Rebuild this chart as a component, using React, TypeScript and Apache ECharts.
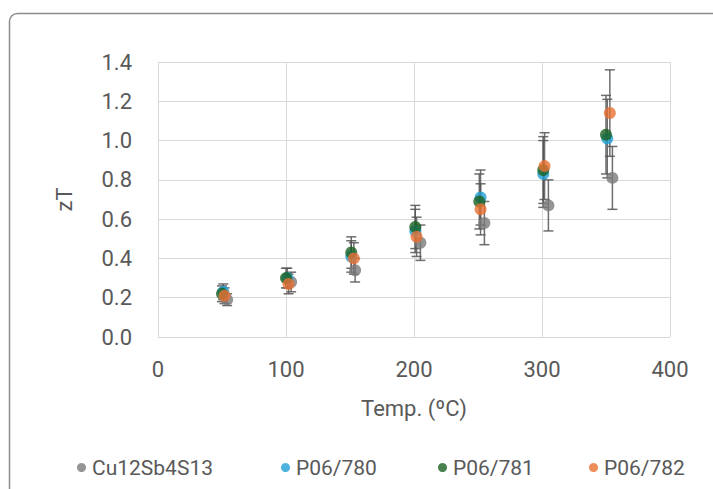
import React, { useEffect, useRef } from "react";
import * as echarts from "echarts";

const seriesNames = ["Cu12Sb4S13", "P06/780", "P06/781", "P06/782"];
const seriesColors = ["#7a7a7a", "#1ea0d6", "#1a6220", "#e97132"];

const grayX = [54, 104, 154, 205, 255, 305, 355];
const grayY = [0.19, 0.28, 0.34, 0.48, 0.58, 0.67, 0.81];
const grayErr = [0.03, 0.05, 0.06, 0.09, 0.11, 0.13, 0.16];

const blueX = [51, 101, 151, 201, 252, 301, 351];
const blueY = [0.23, 0.3, 0.41, 0.54, 0.71, 0.83, 1.01];
const blueErr = [0.04, 0.05, 0.08, 0.11, 0.14, 0.17, 0.2];

const greenX = [50, 100, 151, 201, 251, 301, 350];
const greenY = [0.22, 0.3, 0.43, 0.56, 0.69, 0.85, 1.03];
const greenErr = [0.04, 0.05, 0.08, 0.11, 0.14, 0.17, 0.2];

const orangeX = [52, 102, 153, 202, 252, 302, 353];
const orangeY = [0.21, 0.27, 0.4, 0.51, 0.65, 0.87, 1.14];
const orangeErr = [0.04, 0.05, 0.08, 0.1, 0.13, 0.17, 0.22];

const xTicks = { min: 0, max: 400, interval: 100 };
const yTicks = { min: 0, max: 1.4, interval: 0.2 };

const allX = [grayX, blueX, greenX, orangeX];
const allY = [grayY, blueY, greenY, orangeY];
const allErr = [grayErr, blueErr, greenErr, orangeErr];

const legendLefts = [72, 276, 433, 584];

const FONT = "Roboto, 'Liberation Sans', sans-serif";

export default function App() {
  const ref = useRef<HTMLDivElement>(null);
  useEffect(() => {
    if (!ref.current) return;
    const chart = echarts.init(ref.current, undefined, { renderer: "svg" });

    const errorSeries = allX.map((xs, si) => ({
      type: "custom",
      name: seriesNames[si] + " err",
      z: 1,
      silent: true,
      data: xs.map((x, i) => [x, allY[si][i] - allErr[si][i], allY[si][i] + allErr[si][i]]),
      renderItem: (params: any, api: any) => {
        const x = api.value(0);
        const lo = api.coord([x, api.value(1)]);
        const hi = api.coord([x, api.value(2)]);
        const half = 5;
        const style = { stroke: "#555555", lineWidth: 1.5, opacity: 0.85 };
        return {
          type: "group",
          children: [
            { type: "line", shape: { x1: lo[0], y1: lo[1], x2: hi[0], y2: hi[1] }, style },
            { type: "line", shape: { x1: lo[0] - half, y1: lo[1], x2: lo[0] + half, y2: lo[1] }, style },
            { type: "line", shape: { x1: hi[0] - half, y1: hi[1], x2: hi[0] + half, y2: hi[1] }, style },
          ],
        };
      },
    }));

    const scatterSeries = allX.map((xs, si) => ({
      type: "scatter",
      name: seriesNames[si],
      z: 3,
      symbol: "circle",
      symbolSize: 12,
      itemStyle: { color: seriesColors[si] },
      data: xs.map((x, i) => [x, allY[si][i]]),
    }));

    const legends = seriesNames.map((n, i) => ({
      top: 452,
      left: legendLefts[i],
      icon: "circle",
      itemWidth: 9,
      itemHeight: 9,
      itemGap: 0,
      data: [n],
      textStyle: { fontSize: 21, color: "#595959", fontFamily: FONT, padding: [0, 0, 0, 1] },
    }));

    chart.setOption({
      animation: false,
      textStyle: { fontFamily: FONT },
      graphic: [
        {
          type: "rect",
          shape: { x: 9.5, y: 13.5, width: 800, height: 600, r: 8 },
          style: { fill: "none", stroke: "#8c8c8c", lineWidth: 1.5 },
          silent: true,
        },
      ],
      legend: legends,
      grid: { left: 158, right: 43, top: 62, bottom: 152 },
      xAxis: {
        type: "value",
        min: xTicks.min,
        max: xTicks.max,
        interval: xTicks.interval,
        name: "Temp. (ºC)",
        nameLocation: "middle",
        nameGap: 60,
        nameTextStyle: { fontSize: 22, color: "#595959" },
        axisLine: { show: false },
        axisTick: { show: false },
        axisLabel: { fontSize: 22, color: "#595959", margin: 21 },
        splitLine: { lineStyle: { color: "#d9d9d9", width: 1 } },
      },
      yAxis: {
        type: "value",
        min: yTicks.min,
        max: yTicks.max,
        interval: yTicks.interval,
        name: "zT",
        nameLocation: "middle",
        nameGap: 83,
        nameRotate: 90,
        nameTextStyle: { fontSize: 22, color: "#595959" },
        axisLine: { show: false },
        axisTick: { show: false },
        axisLabel: {
          fontSize: 22,
          color: "#595959",
          margin: 26,
          formatter: (v: number) => v.toFixed(1),
        },
        splitLine: { lineStyle: { color: "#d9d9d9", width: 1 } },
      },
      series: [...errorSeries, ...scatterSeries],
    });
    return () => chart.dispose();
  }, []);
  return (
    <div
      ref={ref}
      style={{ position: "fixed", left: 0, top: 0, width: 713, height: 489, background: "#ffffff" }}
    />
  );
}
